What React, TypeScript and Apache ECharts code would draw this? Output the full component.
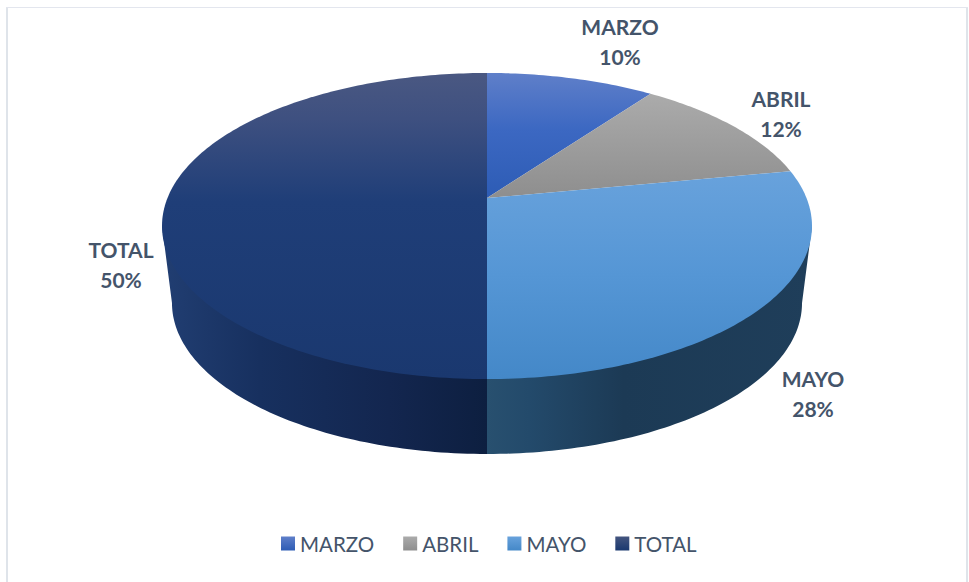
import React, { useEffect, useRef } from "react";
import * as echarts from "echarts";

const categories = ["MARZO", "ABRIL", "MAYO", "TOTAL"];
const shares = [10, 12, 28, 50];

const topStops: [number, string][][] = [
  [[0, "#5f7fc9"], [0.45, "#3c68c2"], [1, "#2d5cb5"]],
  [[0, "#ababab"], [1, "#8e8e8e"]],
  [[0, "#68a2dc"], [0.5, "#5596d5"], [1, "#4488c8"]],
  [[0, "#4a5882"], [0.15, "#3e5080"], [0.42, "#1f3e78"], [1, "#1a386f"]],
];
const wallStops: [number, string][][] = [
  [[0, "#1f3a6e"], [1, "#1f3a6e"]],
  [[0, "#5a5a5a"], [1, "#5a5a5a"]],
  [[0, "#28506f"], [0.13, "#234a6b"], [0.42, "#1c3a55"], [1, "#1f3e5a"]],
  [[0, "#213e72"], [0.3, "#17305f"], [0.7, "#13264f"], [1, "#0d1f40"]],
];
const swatchStops: [number, string][][] = [
  [[0, "#5f7fc9"], [1, "#2d5cb5"]],
  [[0, "#ababab"], [1, "#8e8e8e"]],
  [[0, "#68a2dc"], [1, "#4488c8"]],
  [[0, "#44557f"], [1, "#1a386f"]],
];

// Layout of the perspective pie
const CX = 487;
const K = 0.183;
const TOP = { apexY: 198, bx: 319.5, by: 147.9 };
const BOTTOM = { apexY: 275.4, bx: 309.7, by: 145.9 };
const labelAnchors: [number, number][] = [
  [620, 41],
  [781, 113.5],
  [813, 393],
  [121, 264],
];

const project = (deg: number, rim: { apexY: number; bx: number; by: number }): [number, number] => {
  const t = (deg * Math.PI) / 180;
  const X = Math.sin(t);
  const Y = -Math.cos(t);
  const d = 1 - K * Y;
  return [CX + (rim.bx * X) / d, rim.apexY + (rim.by * Y) / d];
};

const arc = (a: number, b: number, rim: typeof TOP) => {
  const n = Math.max(2, Math.ceil(Math.abs(b - a) / 1));
  const pts: [number, number][] = [];
  for (let i = 0; i <= n; i++) pts.push(project(a + ((b - a) * i) / n, rim));
  return pts;
};

const gradient = (stops: [number, string][], horizontal: boolean) =>
  new echarts.graphic.LinearGradient(
    0,
    0,
    horizontal ? 1 : 0,
    horizontal ? 0 : 1,
    stops.map(([offset, color]) => ({ offset, color }))
  );

// Rim silhouette: the wall is visible between these two angles.
const WALL_FROM = (Math.acos(-K) * 180) / Math.PI;
const WALL_TO = 360 - WALL_FROM;

// The wall's upper edge runs slightly under the top face, so no seam shows between them.
const tuckedRim = (a: number, b: number) => {
  const rim = arc(a, b, TOP);
  const inner = rim.map(([x, y]) => [x + (CX - x) * 0.02, y + (TOP.apexY - y) * 0.02] as [number, number]);
  return [rim[0], ...inner, rim[rim.length - 1]];
};

export default function App() {
  const ref = useRef<HTMLDivElement>(null);

  useEffect(() => {
    document.body.style.margin = "0";
    const chart = echarts.init(ref.current!, undefined, { renderer: "svg" });
    const total = shares.reduce((s, v) => s + v, 0);
    let acc = 0;
    const spans = shares.map((v) => {
      const a = (acc / total) * 360;
      acc += v;
      return [a, (acc / total) * 360];
    });

    const series = categories.map((name, idx) => ({
      type: "custom",
      name,
      coordinateSystem: "none",
      silent: true,
      z: 2,
      itemStyle: { color: swatchStops[idx][0][1] },
      data: [[shares[idx]]],
      renderItem: () => {
        const [a, b] = spans[idx];
        const children: any[] = [];
        const wa = Math.max(a, WALL_FROM);
        const wb = Math.min(b, WALL_TO);
        if (wb > wa) {
          children.push({
            type: "polygon",
            shape: { points: [...tuckedRim(wa, wb), ...arc(wb, wa, BOTTOM)] },
            style: { fill: gradient(wallStops[idx], true) },
          });
        }
        children.push({
          type: "polygon",
          shape: { points: [[CX, TOP.apexY], ...arc(a, b, TOP)] },
          style: { fill: gradient(topStops[idx], false) },
        });
        children.push({
          type: "text",
          style: {
            x: labelAnchors[idx][0],
            y: labelAnchors[idx][1],
            text: `${name}\n${Math.round((shares[idx] / total) * 100)}%`,
            fontFamily: "Lato",
            fontWeight: "bold",
            fontSize: 21,
            lineHeight: 30,
            fill: "#44546a",
            align: "center",
            verticalAlign: "middle",
          },
        });
        return { type: "group", children };
      },
    }));

    chart.setOption({
      animation: false,
      backgroundColor: "#ffffff",
      legend: {
        left: 276,
        top: 528,
        orient: "horizontal",
        icon: "rect",
        itemWidth: 14,
        itemHeight: 14,
        itemGap: 29,
        selectedMode: false,
        textStyle: { fontFamily: "Lato", fontSize: 20.5, color: "#44546a", padding: [0, 0, 0, 0] },
        data: categories.map((name, i) => ({
          name,
          itemStyle: { color: gradient(swatchStops[i], false), borderWidth: 0 },
        })),
      },
      graphic: [
        { type: "rect", silent: true, shape: { x: 6, y: 7, width: 2, height: 575 }, style: { fill: "#dfe4ea" } },
        { type: "rect", silent: true, shape: { x: 966, y: 7, width: 2, height: 575 }, style: { fill: "#dfe4ea" } },
        { type: "rect", silent: true, shape: { x: 6, y: 7, width: 962, height: 1 }, style: { fill: "#e3e6ee" } },
      ],
      series,
    });
    return () => chart.dispose();
  }, []);

  return <div ref={ref} style={{ width: 969, height: 582 }} />;
}
